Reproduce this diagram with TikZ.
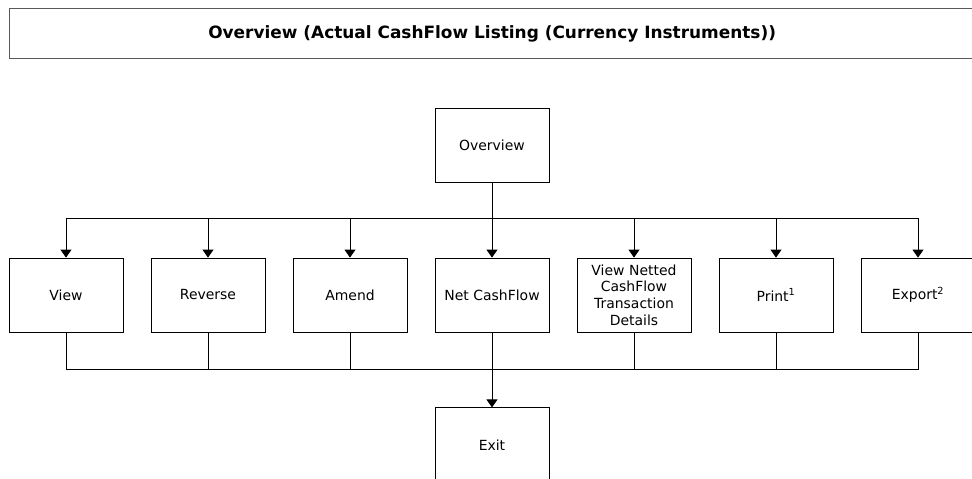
\documentclass[tikz,border=0pt]{standalone}
\usepackage{fontspec}
\setmainfont{DejaVu Sans}
\usetikzlibrary{positioning}
\usetikzlibrary{arrows.meta}

\begin{document}
\begin{tikzpicture} [
  x=1bp, y=-1bp,
  every node/.style={font=\fontsize{14}{16.7}\selectfont},
  box/.style={draw,line width=0.8bp,minimum width=114bp,minimum height=74bp,
    inner sep=0,align=center,text width=110bp},
  titlebox/.style={draw=gray!70!black,line width=1.3bp,minimum width=965bp,
    minimum height=50bp,inner sep=0,anchor=north west},
  link/.style={line width=0.9bp},
  arrow/.style={link,-{Triangle[width=11bp,length=8bp]}}
  ]
  \useasboundingbox (0,0) rectangle (972,479);
  \node (title) [titlebox] at (9,8)
    {\fontsize{17}{20}\selectfont\bfseries Overview (Actual CashFlow Listing (Currency Instruments))};

  \node (net) [box] at (492,295) {Net CashFlow};
  \node (amend) [box,left=27.2bp of net] {Amend};
  \node (reverse) [box,left=27.2bp of amend] {Reverse};
  \node (view) [box,left=27.2bp of reverse] {View};
  \node (netted) [box,right=27.2bp of net] {View Netted\\CashFlow\\Transaction\\Details};
  \node (print) [box,right=27.2bp of netted] {Print\textsuperscript{1}};
  \node (export) [box,right=27.2bp of print] {Export\textsuperscript{2}};

  \node (overview) [box,above=75bp of net] {Overview};
  \node (exit) [box,below=75bp of net] {Exit};

  % top bus
  \coordinate (topbus) at (492,218);
  \draw [link] (overview.south) -- (topbus);
  \draw [link] (topbus -| view) -- (topbus -| export);
  \draw [arrow] (topbus -| view) -- (view.north);
  \draw [arrow] (topbus -| reverse) -- (reverse.north);
  \draw [arrow] (topbus -| amend) -- (amend.north);
  \draw [arrow] (topbus -| net) -- (net.north);
  \draw [arrow] (topbus -| netted) -- (netted.north);
  \draw [arrow] (topbus -| print) -- (print.north);
  \draw [arrow] (topbus -| export) -- (export.north);

  % bottom bus
  \coordinate (lowbus) at (492,369);
  \draw [link] (view.south) -- (lowbus -| view) -- (lowbus -| export) -- (export.south);
  \draw [link] (reverse.south) -- (lowbus -| reverse);
  \draw [link] (amend.south) -- (lowbus -| amend);
  \draw [link] (netted.south) -- (lowbus -| netted);
  \draw [link] (print.south) -- (lowbus -| print);
  \draw [arrow] (net.south) -- (exit.north);
\end{tikzpicture}
\end{document}
